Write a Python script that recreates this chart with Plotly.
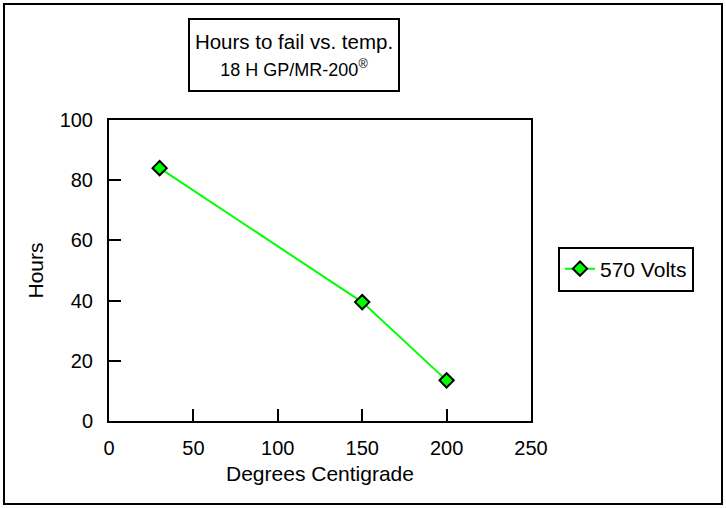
import plotly.graph_objects as go

temps = [30, 150, 200]
hours = [84, 39.5, 13.5]
series_name = "570 Volts"
x_ticks = [0, 50, 100, 150, 200, 250]
y_ticks = [0, 20, 40, 60, 80, 100]

W, H = 726, 508
L, R, T, B = 109, 195, 120, 87
pw, ph = W - L - R, H - T - B

def px_x(p):
    return (p - L) / pw

def px_y(p):
    return (H - B - p) / ph

fig = go.Figure()
fig.add_trace(go.Scatter(
    x=temps, y=hours, name=series_name, mode="lines+markers",
    line=dict(color="#00FF00", width=2),
    marker=dict(symbol="diamond", size=11, color="#00FF00",
                line=dict(color="black", width=2)),
))

FAM = "Liberation Sans, Arial, sans-serif"
font = dict(family=FAM, color="black")

fig.update_layout(
    width=W, height=H,
    margin=dict(l=L, r=R, t=T, b=B),
    paper_bgcolor="white", plot_bgcolor="white",
    font=dict(size=20, **font),
    showlegend=True,
    legend=dict(x=px_x(558), y=px_y(269), xanchor="left", yanchor="middle",
                bordercolor="black", borderwidth=2, bgcolor="white",
                itemwidth=30, tracegroupgap=0,
                font=dict(size=21, **font)),
    xaxis=dict(range=[0, 250], tickvals=x_ticks, ticks="inside", ticklen=12,
               tickwidth=2, tickcolor="black", showline=True, linewidth=2,
               linecolor="black", mirror=True, showgrid=False, zeroline=False,
               ticklabelstandoff=8,
               title=dict(text="Degrees Centigrade", font=dict(size=21, **font), standoff=8),
               tickfont=dict(size=20, **font)),
    yaxis=dict(range=[0, 100], tickvals=y_ticks, ticks="inside", ticklen=12,
               tickwidth=2, tickcolor="black", showline=True, linewidth=2,
               linecolor="black", mirror=True, showgrid=False, zeroline=False,
               ticklabelstandoff=10,
               title=dict(text="Hours", font=dict(size=21, **font), standoff=10),
               tickfont=dict(size=20, **font)),
)

fig.add_annotation(
    xref="paper", yref="paper", x=px_x(294), y=px_y(55),
    xanchor="center", yanchor="middle", showarrow=False,
    text="Hours to fail vs. temp.<br><span style='font-size:18px'>18 H GP/MR-200<sup>®</sup></span>",
    font=dict(size=20.5, **font), width=208, height=70,
    bordercolor="black", borderwidth=2, bgcolor="white", borderpad=0,
)

fig.add_shape(type="rect", xref="paper", yref="paper",
              x0=px_x(4), x1=px_x(722), y0=px_y(504), y1=px_y(4),
              line=dict(color="black", width=2), layer="below")

fig.write_html("out.html", config={"displayModeBar": False},
               post_script="document.body.style.margin='0px';document.body.style.overflow='hidden';")
